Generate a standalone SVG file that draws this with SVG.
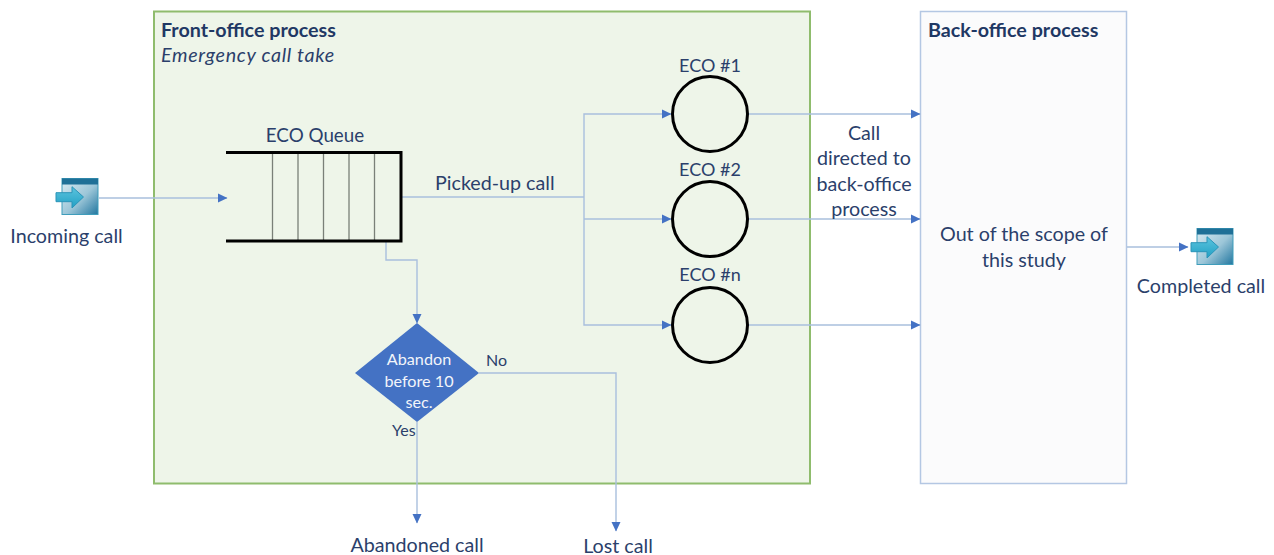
<svg xmlns="http://www.w3.org/2000/svg" width="1274" height="555" viewBox="0 0 1274 555">
<defs>
<style>
text{font-family:Lato,"Liberation Sans",sans-serif;font-size:19.7px;fill:#2b3f6b}
.m{text-anchor:middle}
.b{font-weight:700;fill:#1f3864}
.i{font-style:italic;letter-spacing:.7px}
.w{fill:#f2f5fa;text-anchor:middle;font-size:16.200px}
.s{font-size:16px}
.l{font-size:18px}
.c{fill:none;stroke:#a9bfdd;stroke-width:1.4}
.e{fill:none;stroke:#000;stroke-width:3}
.q{stroke:#7a8078;stroke-width:1.3}
.tip{fill:#4472c4;stroke:none}
</style>
<marker id="a" markerUnits="userSpaceOnUse" markerWidth="10" markerHeight="10" refX="9" refY="5" orient="auto"><path class="tip" d="M0 0.5L9.5 5L0 9.5z"/></marker>
<linearGradient id="g" x1="0" y1="0" x2="1" y2="1"><stop offset="0" stop-color="#dcecf3"/><stop offset="0.55" stop-color="#9cc6d8"/><stop offset="1" stop-color="#2277a0"/></linearGradient>
<linearGradient id="h" x1="0" y1="0" x2="0" y2="1"><stop offset="0" stop-color="#5cc4de"/><stop offset="1" stop-color="#22a0c4"/></linearGradient>
<symbol id="ic" overflow="visible"><rect x="6" y="0.500" width="36" height="36" fill="url(#g)" stroke="#3f9dbb"/><rect x="6" y="0.500" width="36" height="6" fill="#1f7097"/><path d="M0 14.700H16V8.700L27.500 19L16 30V23.700H0z" fill="url(#h)" stroke="#2a94b8"/></symbol>
</defs>
<rect width="1274" height="555" fill="#fff"/>
<g id="front-office"><rect x="154" y="11.500" width="656" height="472" fill="#eef5e9" stroke="#8fbc6d" stroke-width="2"/>
<text class="b" x="161" y="37">Front-office process</text><text class="i" x="161" y="62">Emergency call take</text></g>
<g id="back-office"><rect x="920.500" y="11.500" width="206" height="472" fill="#fbfbfc" stroke="#b4c7e3" stroke-width="1.500"/>
<text class="b" x="928" y="37">Back-office process</text>
<text class="m" x="1024" y="241">Out of the scope of</text><text class="m" x="1024" y="267">this study</text></g>
<g id="connectors">
<path class="c" marker-end="url(#a)" d="M99 198H227"/>
<path class="c" d="M401 197H584"/>
<path class="c" marker-end="url(#a)" d="M584 197V114H671"/>
<path class="c" marker-end="url(#a)" d="M584 219H671"/>
<path class="c" marker-end="url(#a)" d="M584 197V325H671"/>
<path class="c" marker-end="url(#a)" d="M748 114H920"/>
<path class="c" marker-end="url(#a)" d="M748 219H920"/>
<path class="c" marker-end="url(#a)" d="M748 325H920"/>
<path class="c" marker-end="url(#a)" d="M386 242V260H417V323"/>
<path class="c" marker-end="url(#a)" d="M417 422V523"/>
<path class="c" marker-end="url(#a)" d="M479 373H616V531"/>
<path class="c" marker-end="url(#a)" d="M1127 247H1188"/>
</g>
<g id="incoming-call"><use href="#ic" x="56" y="178" width="44" height="38"/><text class="m" x="66.500" y="243">Incoming call</text></g>
<g id="completed-call"><use href="#ic" x="1191" y="228" width="44" height="38"/><text class="m" x="1201" y="293">Completed call</text></g>
<g id="eco-queue"><text class="m" x="315" y="142" style="font-size:18.800px">ECO Queue</text>
<path class="q" d="M272.500 153V241M298 153V241M323.500 153V241M349 153V241M374.500 153V241"/>
<path class="e" d="M226 152.500H401V241H226"/></g>
<g id="eco-1"><text class="m l" x="710" y="72">ECO #1</text><circle class="e" cx="710" cy="114" r="37.500"/></g>
<g id="eco-2"><text class="m l" x="710" y="176">ECO #2</text><circle class="e" cx="710" cy="219" r="37.500"/></g>
<g id="eco-n"><text class="m l" x="710" y="281">ECO #n</text><circle class="e" cx="710" cy="325" r="37.500"/></g>
<g id="abandon"><path d="M417 323L479 373L417 422L355 373z" fill="#4472c4"/>
<text class="w" x="419" y="365">Abandon</text><text class="w" x="419" y="387">before 10</text><text class="w" x="419" y="408">sec.</text></g>
<text class="s" x="486" y="366">No</text>
<text class="s" x="392" y="436">Yes</text>
<text x="435" y="190">Picked-up call</text>
<g id="label-directed"><text class="m" x="864" y="140">Call</text><text class="m" x="864" y="165">directed to</text><text class="m" x="864" y="191">back-office</text><text class="m" x="864" y="216">process</text></g>
<g id="abandoned-call"><text class="m" x="417" y="552">Abandoned call</text></g>
<g id="lost-call"><text class="m" x="618" y="553">Lost call</text></g>
</svg>
